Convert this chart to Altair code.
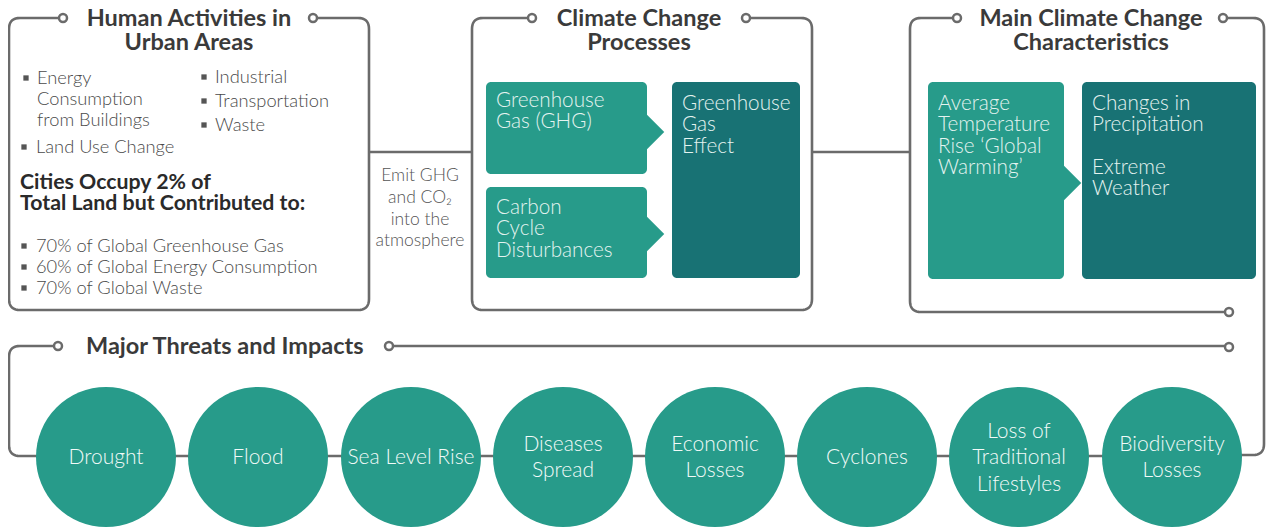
import altair as alt
import numpy as np
import pandas as pd

# ------------------------------------------------------------------ content
panel_titles = [
    ["Human Activities in", "Urban Areas"],
    ["Climate Change", "Processes"],
    ["Main Climate Change", "Characteristics"],
]
threats_title = "Major Threats and Impacts"
activities_left = ["Energy", "Consumption", "from Buildings"]
activities_left_2 = ["Land Use Change"]
activities_right = ["Industrial", "Transportation", "Waste"]
cities_heading = ["Cities Occupy 2% of", "Total Land but Contributed to:"]
cities_shares = [
    "70% of Global Greenhouse Gas",
    "60% of Global Energy Consumption",
    "70% of Global Waste",
]
emit_label = ["Emit GHG", "and CO\u2082", "into the", "atmosphere"]
process_boxes = [
    ["Greenhouse", "Gas (GHG)"],
    ["Carbon", "Cycle", "Disturbances"],
    ["Greenhouse", "Gas", "Effect"],
]
characteristic_boxes = [
    ["Average", "Temperature", "Rise \u2018Global", "Warming\u2019"],
    ["Changes in", "Precipitation", "", "Extreme", "Weather"],
]
threats = [
    ["Drought"],
    ["Flood"],
    ["Sea Level Rise"],
    ["Diseases", "Spread"],
    ["Economic", "Losses"],
    ["Cyclones"],
    ["Loss of", "Traditional", "Lifestyles"],
    ["Biodiversity", "Losses"],
]

# ------------------------------------------------------------------ layout (page pixels)
GRAY = "#6b6b6b"
TEAL = "#279b8a"
DARK = "#187274"
TITLE_C = "#3a3a3a"
BODY_C = "#4a4a4a"
BOX_TXT = "#e4f3f0"
FONT = "Lato"

W, H = 1258, 519
xs = alt.Scale(domain=[8, 8 + W], nice=False, zero=False)
ys = alt.Scale(domain=[8, 8 + H], nice=False, zero=False, reverse=True)


def X(f="x"):
    return alt.X(f"{f}:Q", scale=xs, axis=None)


def Y(f="y"):
    return alt.Y(f"{f}:Q", scale=ys, axis=None)


def rounded(points, r=11, n=10):
    pts = [np.array(p, float) for p in points]
    out = [pts[0]]
    for i in range(1, len(pts) - 1):
        a, p, b = pts[i - 1], pts[i], pts[i + 1]
        d1 = (p - a) / np.linalg.norm(p - a)
        d2 = (b - p) / np.linalg.norm(b - p)
        s, e = p - d1 * r, p + d2 * r
        for t in np.linspace(0, 1, n):
            out.append((1 - t) ** 2 * s + 2 * (1 - t) * t * p + t ** 2 * e)
    out.append(pts[-1])
    return out


RX = 1264  # right-hand connector
TOP = 18
ring_pts = [(63, TOP), (313, TOP), (532, TOP), (746, TOP), (957, TOP), (1223, TOP),
            (1229, 312), (58, 346), (389, 346), (1229, 347)]

paths = [
    [(63, TOP), (9, TOP), (9, 310), (369, 310), (369, TOP), (313, TOP)],
    [(532, TOP), (472, TOP), (472, 310), (812, 310), (812, TOP), (746, TOP)],
    [(957, TOP), (910, TOP), (910, 312), (1229, 312)],
    [(1223, TOP), (RX, TOP), (RX, 455), (1230, 455)],
    [(58, 346), (9, 346), (9, 456), (60, 456)],
    [(389, 346), (1229, 346)],
    [(369, 152), (472, 152)],
    [(812, 152), (910, 152)],
    [(60, 456), (1230, 456)],
]
rows = []
for pid, p in enumerate(paths):
    for k, q in enumerate(rounded(p)):
        rows.append({"path": pid, "order": k, "x": q[0], "y": q[1]})
lines_df = pd.DataFrame(rows)

lines = alt.Chart(lines_df).mark_line(
    color=GRAY, strokeWidth=2.6, strokeJoin="round"
).encode(x=X(), y=Y(), detail="path:N", order="order:Q")

rings = alt.Chart(pd.DataFrame(ring_pts, columns=["x", "y"])).mark_point(
    shape="circle", size=64, filled=True, fill="white", stroke=GRAY, strokeWidth=2.5, opacity=1
).encode(x=X(), y=Y())

# boxes
box_df = pd.DataFrame([
    {"x": 486, "x2": 647, "y": 82, "y2": 174, "c": TEAL},
    {"x": 486, "x2": 647, "y": 187, "y2": 278, "c": TEAL},
    {"x": 672, "x2": 800, "y": 82, "y2": 278, "c": DARK},
    {"x": 928, "x2": 1064, "y": 82, "y2": 279, "c": TEAL},
    {"x": 1082, "x2": 1256, "y": 82, "y2": 279, "c": DARK},
])
boxes = alt.Chart(box_df).mark_rect(cornerRadius=5).encode(
    x=X(), x2="x2:Q", y=Y(), y2="y2:Q", color=alt.Color("c:N", scale=None)
)
tri_df = pd.DataFrame([
    {"x": 646, "y": 132},
    {"x": 646, "y": 234},
    {"x": 1063, "y": 183},
])
tris = alt.Chart(tri_df).mark_point(
    shape="M0,-1L1,0L0,1Z", size=1330, filled=True, color=TEAL, opacity=1, strokeWidth=0
).encode(x=X(), y=Y())

# threat circles
tx = [106, 258, 411, 563, 715, 867, 1019, 1172]
circ_df = pd.DataFrame({"x": tx, "y": [457] * len(tx)})
circles = alt.Chart(circ_df).mark_point(
    shape="circle", size=140 * 140, filled=True, color=TEAL, opacity=1, strokeWidth=0
).encode(x=X(), y=Y())

# ------------------------------------------------------------------ text tables
title_rows = []
for (l1, l2), cx in zip(panel_titles, [189, 639, 1091]):
    title_rows.append({"x": cx, "y": 18.5, "t": l1})
    title_rows.append({"x": cx, "y": 43, "t": l2})
titles = alt.Chart(pd.DataFrame(title_rows)).mark_text(
    font=FONT, fontWeight="bold", fontSize=23.5, color=TITLE_C, align="center", baseline="middle"
).encode(x=X(), y=Y(), text="t:N")
threat_title = alt.Chart(pd.DataFrame([{"x": 86, "y": 347, "t": threats_title}])).mark_text(
    font=FONT, fontWeight="bold", fontSize=23.5, color=TITLE_C, align="left", baseline="middle"
).encode(x=X(), y=Y(), text="t:N")

body_rows = []
for t, y in zip(activities_left, [79, 100, 121]):
    body_rows.append({"x": 37, "y": y, "t": t})
for t, y in zip(activities_left_2, [148]):
    body_rows.append({"x": 36, "y": y, "t": t})
for t, y in zip(activities_right, [78, 102, 126]):
    body_rows.append({"x": 215, "y": y, "t": t})
for t, y in zip(cities_shares, [247, 268, 289]):
    body_rows.append({"x": 36, "y": y, "t": t})
body = alt.Chart(pd.DataFrame(body_rows)).mark_text(
    font=FONT, fontWeight=300, fontSize=18.3, color=BODY_C, align="left", baseline="middle"
).encode(x=X(), y=Y(), text="t:N")

bullet_df = pd.DataFrame({
    "x": [26, 24, 204, 204, 204, 24, 24, 24],
    "y": [78, 147, 77, 101, 125, 246, 267, 288],
})
bullets = alt.Chart(bullet_df).mark_point(
    shape="square", size=28, filled=True, color="#555555", opacity=1, strokeWidth=0
).encode(x=X(), y=Y())

heading = alt.Chart(pd.DataFrame(
    [{"x": 20, "y": 183, "t": cities_heading[0]}, {"x": 20, "y": 204, "t": cities_heading[1]}]
)).mark_text(
    font=FONT, fontWeight="bold", fontSize=21.3, color="#2a2a2a", align="left", baseline="middle"
).encode(x=X(), y=Y(), text="t:N")

emit = alt.Chart(pd.DataFrame(
    {"x": [420] * 4, "y": [176, 198, 220, 241], "t": emit_label}
)).mark_text(
    font=FONT, fontWeight=300, fontSize=17.5, color="#555555", align="center", baseline="middle"
).encode(x=X(), y=Y(), text="t:N")

box_rows = []
for lines_, (bx, by) in zip(process_boxes + characteristic_boxes,
                            [(496, 101), (496, 208), (682, 104), (938, 104), (1092, 104)]):
    for i, t in enumerate(lines_):
        if t:
            box_rows.append({"x": bx, "y": by + i * 21.3, "t": t})
box_text = alt.Chart(pd.DataFrame(box_rows)).mark_text(
    font=FONT, fontWeight=300, fontSize=20.7, color=BOX_TXT, align="left", baseline="middle"
).encode(x=X(), y=Y(), text="t:N")

circ_rows = []
for lines_, cx in zip(threats, tx):
    n = len(lines_)
    for i, t in enumerate(lines_):
        circ_rows.append({"x": cx, "y": 458 + (i - (n - 1) / 2) * 26.5, "t": t})
circ_text = alt.Chart(pd.DataFrame(circ_rows)).mark_text(
    font=FONT, fontWeight=300, fontSize=21, color="#f2faf8", align="center", baseline="middle"
).encode(x=X(), y=Y(), text="t:N")

chart = alt.layer(
    lines, rings, boxes, tris, circles, titles, threat_title, body, bullets,
    heading, emit, box_text, circ_text
).properties(
    width=W, height=H, padding=0, autosize="none", background="white"
).configure_view(stroke=None)

chart.save("out.html", embed_options={"renderer": "svg", "actions": False})
